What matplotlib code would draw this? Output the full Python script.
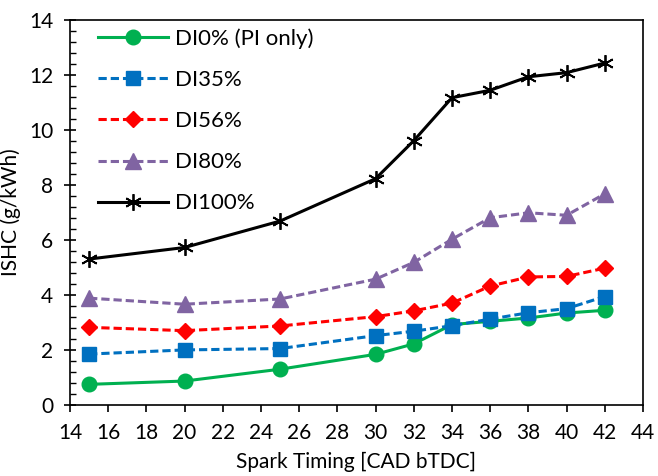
import matplotlib
matplotlib.use("Agg")
import matplotlib.pyplot as plt
from matplotlib.ticker import MultipleLocator

plt.rcParams['font.family'] = ['Lato', 'DejaVu Sans']

spark_timing = [15, 20, 25, 30, 32, 34, 36, 38, 40, 42]
di0 = [0.75, 0.87, 1.30, 1.84, 2.22, 2.92, 3.04, 3.16, 3.34, 3.44]
di35 = [1.85, 2.00, 2.05, 2.52, 2.68, 2.88, 3.12, 3.35, 3.50, 3.94]
di56 = [2.82, 2.70, 2.87, 3.21, 3.42, 3.70, 4.32, 4.65, 4.67, 4.97]
di80 = [3.88, 3.66, 3.85, 4.57, 5.18, 6.02, 6.80, 6.98, 6.89, 7.67]
di100 = [5.30, 5.72, 6.68, 8.22, 9.60, 11.16, 11.43, 11.92, 12.07, 12.42]

labels = ["DI0% (PI only)", "DI35%", "DI56%", "DI80%", "DI100%"]
xticks = list(range(14, 46, 2))
yticks = list(range(0, 16, 2))

fig = plt.figure(figsize=(6.58, 4.76), dpi=100)
ax = fig.add_axes([70/658, 71/476, 573/658, 385.5/476])

dash = (0, (2.7, 1.3))
ax.plot(spark_timing, di0, color='#00B050', lw=2.2, ls='-', marker='o', ms=10.5, label=labels[0])
ax.plot(spark_timing, di35, color='#0070C0', lw=2.2, ls=dash, marker='s', ms=10.5, label=labels[1])
ax.plot(spark_timing, di56, color='#FF0000', lw=2.2, ls=dash, marker='D', ms=8.5, label=labels[2])
ax.plot(spark_timing, di80, color='#8064A2', lw=2.2, ls=dash, marker='^', ms=11, label=labels[3])
ax.plot(spark_timing, di100, color='black', lw=2.2, ls='-', marker=(6, 2, 0), ms=12, mew=1.3, label=labels[4])

ax.set_xlim(14, 44)
ax.set_ylim(0, 14)
ax.set_xticks(xticks)
ax.set_yticks(yticks)
ax.yaxis.set_minor_locator(MultipleLocator(0.4))
ax.tick_params(axis='x', which='major', direction='out', length=5, width=1.2, labelsize=15, pad=8)
ax.tick_params(axis='y', which='major', direction='inout', length=8, width=1.2, labelsize=15, pad=8)
ax.tick_params(axis='y', which='minor', direction='in', length=4.5, width=1.0)
for s in ax.spines.values():
    s.set_linewidth(1.2)

ax.set_xlabel("Spark Timing [CAD bTDC]", fontsize=15, labelpad=6)
ax.set_ylabel("ISHC (g/kWh)", fontsize=15, labelpad=6)

ax.legend(loc='upper left', frameon=False, fontsize=16, handlelength=3.15,
          labelspacing=0.95, borderaxespad=0.0, handletextpad=0.3,
          bbox_to_anchor=(0.034, 1.0))

fig.savefig("out.png", dpi=100)
